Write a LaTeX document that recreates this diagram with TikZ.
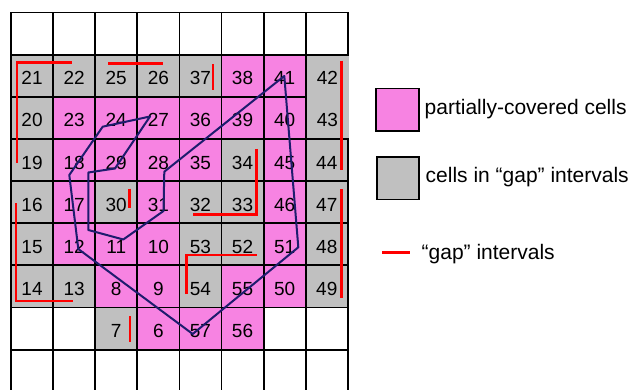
\documentclass[tikz,border=0pt]{standalone}
\usepackage{fontspec}
\setmainfont{Liberation Sans}
\definecolor{cpink}{RGB}{247,131,226}
\definecolor{cgray}{RGB}{192,192,192}
\definecolor{cnavy}{RGB}{30,28,110}
\definecolor{cred}{RGB}{255,0,0}
\begin{document}
\begin{tikzpicture}[x=1pt,y=-1pt,
  cellbase/.style={draw=black, line width=1.8pt, minimum width=42.1pt, minimum height=42.15pt,
    anchor=north west, inner sep=0pt, outer sep=0pt, font=\fontsize{19}{21}\selectfont,
    text height=18pt, text depth=0pt},
  pinkcell/.style={cellbase, fill=cpink},
  graycell/.style={cellbase, fill=cgray},
  whitecell/.style={cellbase, fill=white},
  opencell/.style={cellbase, draw=none, fill=cgray, minimum width=43.4pt, minimum height=42.4pt},
  gapline/.style={draw=cred, line width=2.8pt},
  pathline/.style={draw=cnavy, line width=2pt, line join=round},
  legbox/.style={draw=black, line width=1.8pt, minimum width=42.6pt, minimum height=42.4pt, inner sep=0pt},
  legtext/.style={anchor=base west, inner sep=0pt, font=\fontsize{21}{24}\selectfont}
]
\useasboundingbox (0,0) rectangle (632,390);
% merged gap cell 42/43 (no right border, no inner line)
\foreach \r/\n in {2/42,3/43}{
  \pgfmathsetmacro\yy{12.5+42.15*(\r-1)}
  \node[opencell] (cell\r-8) at (305.7,\yy) {\n};
}
% white cells
\foreach \r/\c in {1/1,1/2,1/3,1/4,1/5,1/6,1/7,1/8,9/1,9/2,9/3,9/4,9/5,9/6,9/7,9/8,8/1,8/2,8/7,8/8}{
  \pgfmathsetmacro\xx{11+42.1*(\c-1)}
  \pgfmathsetmacro\yy{12.5+42.15*(\r-1)}
  \node[whitecell] (cell\r-\c) at (\xx,\yy) {};
}
% gray cells
\foreach \r/\c/\n in {2/1/21,2/2/22,2/3/25,2/4/26,2/5/37,3/1/20,4/1/19,4/6/34,4/8/44,5/1/16,5/3/30,5/5/32,5/6/33,5/8/47,6/1/15,6/5/53,6/6/52,6/8/48,7/1/14,7/2/13,7/5/54,7/8/49,8/3/7}{
  \pgfmathsetmacro\xx{11+42.1*(\c-1)}
  \pgfmathsetmacro\yy{12.5+42.15*(\r-1)}
  \node[graycell] (cell\r-\c) at (\xx,\yy) {\n};
}
% pink cells
\foreach \r/\c/\n in {2/6/38,2/7/41,3/2/23,3/3/24,3/4/27,3/5/36,3/6/39,3/7/40,4/2/18,4/3/29,4/4/28,4/5/35,4/7/45,5/2/17,5/4/31,5/7/46,6/2/12,6/3/11,6/4/10,6/7/51,7/3/8,7/4/9,7/6/55,7/7/50,8/4/6,8/5/57,8/6/56}{
  \pgfmathsetmacro\xx{11+42.1*(\c-1)}
  \pgfmathsetmacro\yy{12.5+42.15*(\r-1)}
  \node[pinkcell] (cell\r-\c) at (\xx,\yy) {\n};
}
% polygon
\coordinate (pA) at (284.3,76);
\coordinate (pB) at (298.3,247.3);
\coordinate (pC) at (192.7,334);
\coordinate (pD) at (78.3,249);
\coordinate (pE) at (69.3,175);
\coordinate (pF) at (102.7,126.7);
\coordinate (pG) at (150,116.5);
\coordinate (pH) at (115,168.5);
\coordinate (pI) at (88.3,172.5);
\coordinate (pJ) at (88.3,230);
\coordinate (pK) at (123.3,239.5);
\coordinate (pL) at (163.5,211);
\coordinate (pM) at (164.3,171.7);
\draw[pathline] (pA) -- (pB) -- (pC) -- (pD) -- (pE) -- (pF) -- (pG) -- (pH) -- (pI) -- (pJ) -- (pK) -- (pL) -- (pM) -- cycle;
% gap intervals
\draw[gapline] (17,162.7) -- (17,62.3) -- (71.7,62.3);
\draw[gapline] (108.3,63.3) -- (163.3,63.3);
\draw[gapline] (213,64.3) -- (213,90);
\draw[gapline] (341.3,60.7) -- (341.3,170);
\draw[gapline] (256.7,149) -- (256.7,214.3) -- (193.3,214.3);
\draw[gapline] (129.3,188.7) -- (129.3,207.7);
\draw[gapline] (16,203.3) -- (16,301) -- (72.7,301);
\draw[gapline] (341.3,189.3) -- (341.3,298.3);
\draw[gapline] (186.7,294) -- (186.7,255) -- (256.7,255);
\draw[gapline] (130,316) -- (130,341.7);
% legend
\node[legbox, fill=cpink] (legpink) at (397.5,109.7) {};
\node[legbox, fill=cgray] (leggray) at (398,178.3) {};
\coordinate (legA) at (382.3,252.7);
\coordinate (legB) at (410,252.7);
\draw[gapline] (legA) -- (legB);
\node[legtext] (legt1) at (424.5,114.8) {partially-covered cells};
\node[legtext] (legt2) at (425.5,182.8) {cells in “gap” intervals};
\node[legtext] (legt3) at (421.5,260) {“gap” intervals};
\end{tikzpicture}
\end{document}
